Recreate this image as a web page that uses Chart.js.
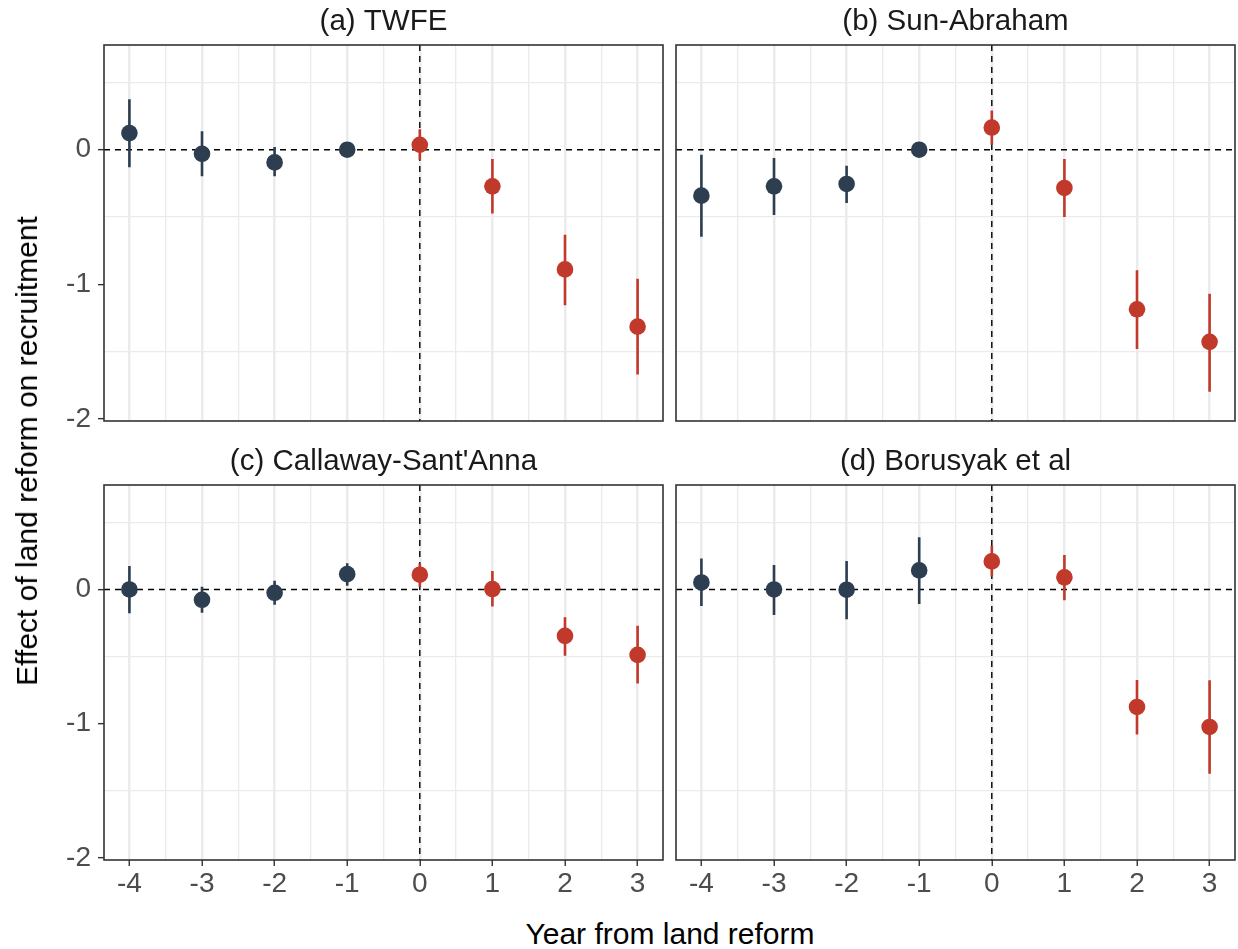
<!DOCTYPE html>
<html>
<head>
<meta charset="utf-8">
<script src="https://cdn.jsdelivr.net/npm/chart.js@4"></script>
<style>
  html, body { margin: 0; padding: 0; background: #fff; }
  #wrap { position: relative; width: 1238px; height: 949px; overflow: hidden; font-family: 'Liberation Sans', Arial, sans-serif; }
  #wrap canvas { position: absolute; }
  .axis-title { position: absolute; font-size: 30px; color: #000; white-space: nowrap; line-height: 1; }
  #xTitle { left: 670px; top: 934px; transform: translate(-50%, -50%); }
  #yTitle { left: 27px; top: 451px; transform: translate(-50%, -50%) rotate(-90deg); }
</style>
</head>
<body>
<div id="wrap">
  <canvas id="pA" width="672" height="445" style="left:0;top:0"></canvas>
  <canvas id="pB" width="566" height="445" style="left:672px;top:0"></canvas>
  <canvas id="pC" width="672" height="470" style="left:0;top:440px"></canvas>
  <canvas id="pD" width="566" height="470" style="left:672px;top:440px"></canvas>
  <div class="axis-title" id="xTitle">Year from land reform</div>
  <div class="axis-title" id="yTitle">Effect of land reform on recruitment</div>
</div>
<script>
// ── Data ──────────────────────────────────────────────────
const years = [-4, -3, -2, -1, 0, 1, 2, 3];

const twfeEst = [0.124, -0.03, -0.094, 0, 0.037, -0.272, -0.889, -1.314];
const twfeLo  = [-0.131, -0.197, -0.197, null, -0.074, -0.474, -1.156, -1.669];
const twfeHi  = [0.375, 0.138, 0.02, null, 0.153, -0.069, -0.632, -0.958];

const sunEst = [-0.341, -0.272, -0.254, 0, 0.165, -0.284, -1.185, -1.427];
const sunLo  = [-0.647, -0.484, -0.395, null, 0.037, -0.499, -1.481, -1.798];
const sunHi  = [-0.037, -0.062, -0.119, null, 0.291, -0.069, -0.896, -1.069];

const csEst = [0, -0.077, -0.025, 0.114, 0.11, 0.003, -0.346, -0.487];
const csLo  = [-0.177, -0.174, -0.114, 0.028, 0.02, -0.127, -0.493, -0.7];
const csHi  = [0.174, 0.02, 0.065, 0.196, 0.196, 0.137, -0.207, -0.271];

const borEst = [0.052, 0, -0.002, 0.142, 0.209, 0.09, -0.875, -1.024];
const borLo  = [-0.124, -0.191, -0.221, -0.109, 0.097, -0.08, -1.08, -1.373];
const borHi  = [0.231, 0.182, 0.212, 0.388, 0.326, 0.257, -0.675, -0.676];

const xTicks = [-4, -3.5, -3, -2.5, -2, -1.5, -1, -0.5, 0, 0.5, 1, 1.5, 2, 2.5, 3];
const yTicks = [-2, -1.5, -1, -0.5, 0, 0.5];

const PRE = '#2C3E50', POST = '#C0392B';
const FONT = "'Liberation Sans', Arial, sans-serif";

// ── Helpers ───────────────────────────────────────────────
const isInt = v => Math.abs(v - Math.round(v)) < 1e-6;

function pointsFor(est, keep) {
  return years.map((yr, i) => ({ x: yr, y: est[i] })).filter(p => keep(p.x));
}

function barsFor(lo, hi, keep) {
  const out = [];
  years.forEach((yr, i) => {
    if (!keep(yr) || lo[i] === null) return;
    out.push({ x: yr, y: lo[i] }, { x: yr, y: hi[i] }, { x: yr, y: null });
  });
  return out;
}

const panelDecor = {
  id: 'panelDecor',
  beforeDatasetsDraw(chart) {
    const { ctx, chartArea: a, scales: { x, y } } = chart;
    ctx.save();
    ctx.strokeStyle = '#000';
    ctx.lineWidth = 1.4;
    ctx.setLineDash([6, 5]);
    const y0 = y.getPixelForValue(0);
    const x0 = x.getPixelForValue(0);
    ctx.beginPath();
    ctx.moveTo(a.left, y0); ctx.lineTo(a.right, y0);
    ctx.moveTo(x0, a.top);  ctx.lineTo(x0, a.bottom);
    ctx.stroke();
    ctx.restore();
  },
  afterDraw(chart) {
    const { ctx, chartArea: a } = chart;
    ctx.save();
    ctx.strokeStyle = '#333333';
    ctx.lineWidth = 1.6;
    ctx.strokeRect(a.left, a.top, a.right - a.left, a.bottom - a.top);
    ctx.restore();
  },
};

function makePanel(id, title, est, lo, hi, showY, showX) {
  const pre = v => v < 0, post = v => v >= 0;
  const canvas = document.getElementById(id);
  return new Chart(canvas, {
    type: 'scatter',
    data: {
      datasets: [
        { data: pointsFor(est, pre),  backgroundColor: PRE,  borderColor: PRE,  pointRadius: 8.3, borderWidth: 0 },
        { data: pointsFor(est, post), backgroundColor: POST, borderColor: POST, pointRadius: 8.3, borderWidth: 0 },
        { data: barsFor(lo, hi, pre),  showLine: true, spanGaps: false, borderColor: PRE,  borderWidth: 2.6, pointRadius: 0 },
        { data: barsFor(lo, hi, post), showLine: true, spanGaps: false, borderColor: POST, borderWidth: 2.6, pointRadius: 0 },
      ],
    },
    options: {
      responsive: false,
      animation: false,
      devicePixelRatio: 1,
      events: [],
      layout: {
        autoPadding: false,
        padding: { left: showY ? 0 : 4, right: showY ? 9 : 3, top: 0, bottom: 0 },
      },
      scales: {
        x: {
          type: 'linear',
          min: -4.35, max: 3.35,
          afterBuildTicks: s => { s.ticks = xTicks.map(v => ({ value: v })); },
          afterFit: s => { s.height = showX ? 50 : 24; },
          border: { display: false },
          grid: {
            color: '#EBEBEB',
            lineWidth: c => isInt(c.tick.value) ? 2.5 : 1.3,
            drawTicks: showX,
            tickLength: 6,
            tickColor: c => isInt(c.tick.value) ? '#333333' : 'rgba(0,0,0,0)',
            tickWidth: 1.4,
          },
          ticks: {
            display: showX,
            autoSkip: false,
            maxRotation: 0,
            padding: 1,
            color: '#4D4D4D',
            font: { family: FONT, size: 28 },
            callback: v => isInt(v) ? String(v) : '',
          },
        },
        y: {
          type: 'linear',
          min: -2.015, max: 0.778,
          afterBuildTicks: s => { s.ticks = yTicks.map(v => ({ value: v })); },
          afterFit: s => { s.width = showY ? 104 : 0; },
          border: { display: false },
          grid: {
            color: c => isInt(c.tick.value) ? 'rgba(0,0,0,0)' : '#EBEBEB',
            lineWidth: 1.3,
            drawTicks: showY,
            tickLength: 6,
            tickColor: c => isInt(c.tick.value) ? '#333333' : 'rgba(0,0,0,0)',
            tickWidth: 1.4,
          },
          ticks: {
            display: showY,
            autoSkip: false,
            padding: 7,
            color: '#4D4D4D',
            font: { family: FONT, size: 28 },
            callback: v => isInt(v) ? String(v) : '',
          },
        },
      },
      plugins: {
        legend: { display: false },
        tooltip: { enabled: false },
        title: {
          display: true,
          text: title,
          fullSize: false,
          color: '#1A1A1A',
          font: { family: FONT, size: 29.5, weight: 'normal', lineHeight: 1.2 },
          padding: { top: 4.3, bottom: 5.3 },
        },
      },
    },
    plugins: [panelDecor],
  });
}

makePanel('pA', '(a) TWFE',                twfeEst, twfeLo, twfeHi, true,  false);
makePanel('pB', '(b) Sun-Abraham',         sunEst,  sunLo,  sunHi,  false, false);
makePanel('pC', "(c) Callaway-Sant'Anna",  csEst,   csLo,   csHi,   true,  true);
makePanel('pD', '(d) Borusyak et al',      borEst,  borLo,  borHi,  false, true);
</script>
</body>
</html>
